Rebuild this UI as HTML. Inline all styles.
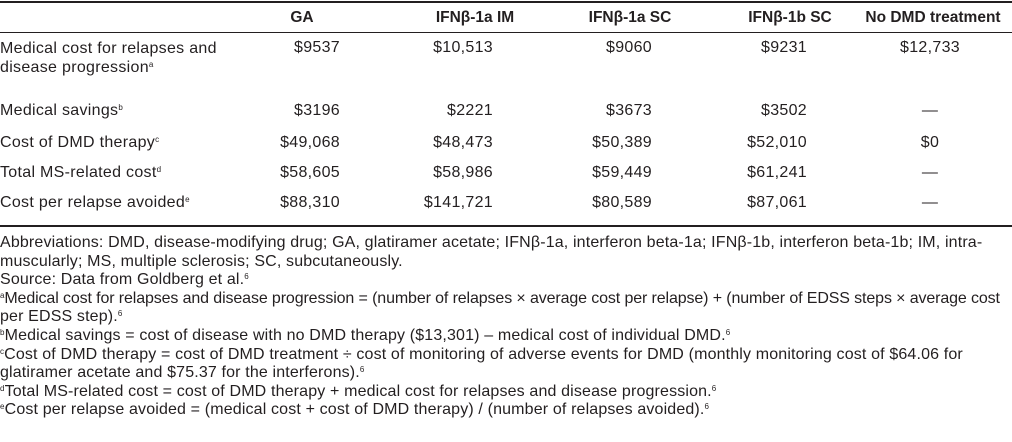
<!DOCTYPE html>
<html><head><meta charset="utf-8"><style>
body{margin:0;width:1012px;height:442px;background:#fff;overflow:hidden;font-family:"Liberation Sans",sans-serif;color:#231f20;}
.t{position:absolute;font-size:16px;letter-spacing:0.3px;line-height:18px;white-space:nowrap;}
.r{text-align:right;}
.c{text-align:center;}
.h{font-weight:bold;letter-spacing:0;font-size:15.5px;}
.fn{letter-spacing:0.15px;}
.tight{letter-spacing:-0.12px;}
.rule{position:absolute;left:0;width:1012px;background:#231f20;}
sup{font-size:8px;vertical-align:5px;line-height:0;}
</style></head><body>
<div class="rule" style="top:1px;height:2px"></div>
<div class="rule" style="top:32px;height:1px"></div>
<div class="rule" style="top:225px;height:2px"></div>

<div class="t h c" style="left:252px;width:100px;top:9px">GA</div>
<div class="t h c" style="left:410px;width:130px;top:9px">IFNβ-1a IM</div>
<div class="t h c" style="left:565px;width:130px;top:9px">IFNβ-1a SC</div>
<div class="t h c" style="left:725px;width:130px;top:9px">IFNβ-1b SC</div>
<div class="t h c" style="left:853px;width:160px;top:9px">No DMD treatment</div>

<div class="t" style="left:0;top:39px;line-height:19px">Medical cost for relapses and<br>disease progression<sup>a</sup></div>
<div class="t" style="left:0;top:102px">Medical savings<sup>b</sup></div>
<div class="t" style="left:0;top:134px">Cost of DMD therapy<sup>c</sup></div>
<div class="t" style="left:0;top:164px">Total MS-related cost<sup>d</sup></div>
<div class="t" style="left:0;top:194px">Cost per relapse avoided<sup>e</sup></div>

<div id="cells"></div>

<div class="t fn" style="left:0;top:234px;line-height:18.6px">
Abbreviations: DMD, disease-modifying drug; GA, glatiramer acetate; IFNβ-1a, interferon beta-1a; IFNβ-1b, interferon beta-1b; IM, intra-<br>
muscularly; MS, multiple sclerosis; SC, subcutaneously.<br>
Source: Data from Goldberg et al.<sup>6</sup><br>
<span class="tight"><sup>a</sup>Medical cost for relapses and disease progression = (number of relapses × average cost per relapse) + (number of EDSS steps × average cost</span><br>
per EDSS step).<sup>6</sup><br>
<sup>b</sup>Medical savings = cost of disease with no DMD therapy ($13,301) – medical cost of individual DMD.<sup>6</sup><br>
<sup>c</sup>Cost of DMD therapy = cost of DMD treatment ÷ cost of monitoring of adverse events for DMD (monthly monitoring cost of $64.06 for<br>
glatiramer acetate and $75.37 for the interferons).<sup>6</sup><br>
<sup>d</sup>Total MS-related cost = cost of DMD therapy + medical cost for relapses and disease progression.<sup>6</sup><br>
<sup>e</sup>Cost per relapse avoided = (medical cost + cost of DMD therapy) / (number of relapses avoided).<sup>6</sup>
</div>

<script>
const rowTops=[39,102,134,164,194];
const colRight=[340,493,652,807];
const rows=[
 ["$9537","$10,513","$9060","$9231","$12,733"],
 ["$3196","$2221","$3673","$3502","—"],
 ["$49,068","$48,473","$50,389","$52,010","$0"],
 ["$58,605","$58,986","$59,449","$61,241","—"],
 ["$88,310","$141,721","$80,589","$87,061","—"]
];
const host=document.getElementById('cells');
rows.forEach((r,i)=>{r.forEach((v,j)=>{
 const d=document.createElement('div');
 d.className='t '+(j<4?'r':'c');
 
 
 d.style.top=rowTops[i]+'px';
 if(j<4){d.style.left=(colRight[j]-120)+'px';d.style.width='120px';}
 else{d.style.left='880px';d.style.width='100px';}
 d.textContent=v;host.appendChild(d);
});});
</script>
</body></html>
